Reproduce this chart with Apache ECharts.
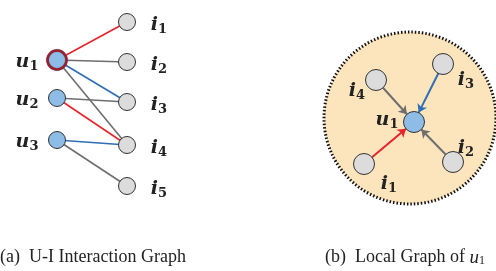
<!DOCTYPE html>
<html>
<head>
<meta charset="utf-8">
<script src="https://cdn.jsdelivr.net/npm/echarts@6/dist/echarts.min.js"></script>
<style>
  html, body { margin: 0; padding: 0; background: #fff; }
  #chart1 { width: 496px; height: 271px; }
</style>
</head>
<body>
<div id="chart1"></div>
<script>
// (a) 用户-物品交互图
const userNames = ['u1', 'u2', 'u3'];
const userPos = [[57, 60], [57, 98], [57, 140]];
const itemNames = ['i1', 'i2', 'i3', 'i4', 'i5'];
const itemPos = [[127, 22], [127, 62], [127, 102], [127, 145], [127, 186]];
const uiEdges = [
    ['u1', 'i1', 'red'], ['u1', 'i2', 'gray'], ['u1', 'i3', 'blue'], ['u1', 'i4', 'gray'],
    ['u2', 'i3', 'gray'], ['u2', 'i4', 'red'],
    ['u3', 'i4', 'blue'], ['u3', 'i5', 'gray']
];

// (b) u1 的局部图
const localCenter = [410, 118];
const localNames = ['u1', 'i1', 'i2', 'i3', 'i4'];
const localPos = [[414, 122], [364, 164], [453, 162], [443, 64], [376, 80]];
const localLabelOffset = [[-27, -2], [25, 20], [13, -14], [23, 16], [-19, 11]];
const localEdges = [['i1', 'u1', 'red'], ['i2', 'u1', 'gray'], ['i3', 'u1', 'blue'], ['i4', 'u1', 'gray']];

const captions = ['(a)  U-I Interaction Graph', '(b)  Local Graph of {m|u}{s|1}'];

const edgeColors = { red: '#e8232b', blue: '#2f6eb5', gray: '#6e6e6e' };
const userFill = '#8dbde6';
const itemFill = '#dcdcdc';

function subLabel(name) {
    return '{m|' + name[0] + '}{s|' + name.slice(1) + '}';
}

const labelRich = {
    m: { fontFamily: 'DejaVu Serif', fontStyle: 'italic', fontWeight: 'bold', fontSize: 19, color: '#222', lineHeight: 22 },
    s: { fontFamily: 'DejaVu Serif', fontWeight: 'bold', fontSize: 13, color: '#222', lineHeight: 13, verticalAlign: 'bottom', padding: [8, 0, 0, 0] }
};

function initChart() {
    const chart = echarts.init(document.getElementById('chart1'), null, { renderer: 'canvas' });

    const uiNodes = [];
    userNames.forEach((n, i) => {
        uiNodes.push({
            name: n,
            value: userPos[i],
            symbolSize: n === 'u1' ? 19 : 17,
            itemStyle: n === 'u1'
                ? { color: userFill, borderColor: '#9e1f28', borderWidth: 2.5, shadowColor: '#2f6eb5', shadowBlur: 1 }
                : { color: userFill, borderColor: '#333', borderWidth: 1 },
            label: { offset: [-30, 2] }
        });
    });
    itemNames.forEach((n, i) => {
        uiNodes.push({
            name: n,
            value: itemPos[i],
            symbolSize: 17,
            itemStyle: { color: itemFill, borderColor: '#333', borderWidth: 1 },
            label: { offset: [32, 3] }
        });
    });

    const localNodes = localNames.map((n, i) => ({
        name: n,
        value: localPos[i],
        symbolSize: 21,
        itemStyle: { color: n[0] === 'u' ? userFill : itemFill, borderColor: '#333', borderWidth: 1 },
        label: { offset: localLabelOffset[i] }
    }));

    const nodeLabel = {
        show: true,
        position: 'inside',
        formatter: p => subLabel(p.name),
        rich: labelRich
    };

    const option = {
        animation: false,
        grid: { left: 0, right: 0, top: 0, bottom: 0 },
        xAxis: { type: 'value', min: 0, max: 496, show: false },
        yAxis: { type: 'value', min: 0, max: 271, inverse: true, show: false },
        title: [
            {
                text: captions[0], left: 0, top: 248, padding: 0,
                textStyle: { fontFamily: 'Liberation Serif', fontWeight: 'normal', fontSize: 18, color: '#222' }
            },
            {
                text: captions[1], left: 325, top: 248, padding: 0,
                textStyle: {
                    fontFamily: 'Liberation Serif', fontWeight: 'normal', fontSize: 18, color: '#222',
                    rich: {
                        m: { fontFamily: 'Liberation Serif', fontStyle: 'italic', fontSize: 19, color: '#222' },
                        s: { fontFamily: 'Liberation Serif', fontSize: 12, color: '#222', verticalAlign: 'bottom', padding: [7, 0, 0, 0] }
                    }
                }
            }
        ],
        series: [
            {
                // 局部图的背景圆
                type: 'scatter',
                z: 1,
                silent: true,
                symbolSize: 172,
                data: [localCenter],
                itemStyle: { color: '#fce4bd', opacity: 1, borderColor: '#111', borderWidth: 3, borderType: [1.5, 2] }
            },
            {
                type: 'graph',
                coordinateSystem: 'cartesian2d',
                z: 2,
                data: uiNodes,
                links: uiEdges.map(e => ({ source: e[0], target: e[1], lineStyle: { color: edgeColors[e[2]] } })),
                lineStyle: { width: 1.6, opacity: 1, curveness: 0 },
                label: nodeLabel,
                emphasis: { disabled: true }
            },
            {
                type: 'graph',
                coordinateSystem: 'cartesian2d',
                z: 3,
                data: localNodes,
                edgeSymbol: ['none', 'arrow'],
                edgeSymbolSize: 8,
                links: localEdges.map(e => ({ source: e[0], target: e[1], lineStyle: { color: edgeColors[e[2]] } })),
                lineStyle: { width: 2, opacity: 1, curveness: 0 },
                label: nodeLabel,
                emphasis: { disabled: true }
            }
        ]
    };

    chart.setOption(option);
}

window.addEventListener('load', initChart);
</script>
</body>
</html>
